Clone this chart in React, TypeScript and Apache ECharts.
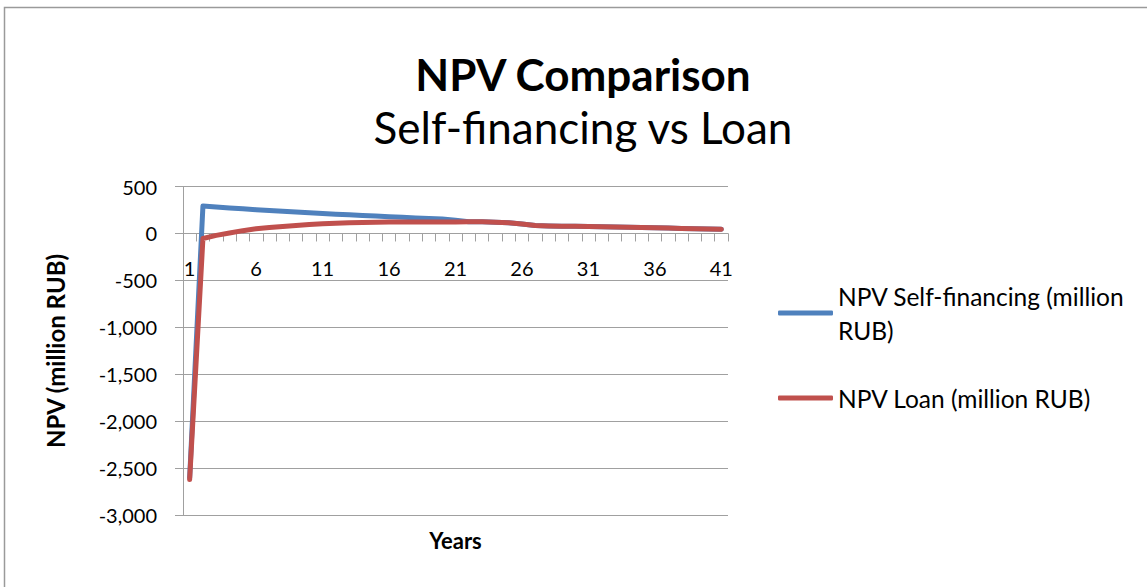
import React, { useEffect, useRef } from "react";
import * as echarts from "echarts";

const years = [
  "1", "2", "3", "4", "5", "6", "7", "8", "9", "10",
  "11", "12", "13", "14", "15", "16", "17", "18", "19", "20",
  "21", "22", "23", "24", "25", "26", "27", "28", "29", "30",
  "31", "32", "33", "34", "35", "36", "37", "38", "39", "40", "41",
];

const npvSelf = [
  -2600, 293, 282, 272, 262, 253, 244, 236, 228, 220,
  213, 205, 198, 191, 185, 179, 172, 166, 160, 153,
  140, 124, 124, 120, 113, 100, 85, 80, 78, 76,
  74, 72, 69, 66, 63, 60, 57, 54, 51, 48, 45,
];

const npvLoan = [
  -2620, -53, -20, 5, 30, 50, 63, 75, 85, 95,
  103, 110, 115, 118, 120, 121, 122, 122, 122, 122,
  123, 124, 124, 120, 113, 100, 85, 80, 78, 76,
  74, 72, 69, 66, 63, 60, 57, 54, 51, 48, 45,
];

const yTicks = { min: -3000, max: 500, interval: 500 };

const SELF_NAME = "NPV Self-financing (million RUB)";
const LOAN_NAME = "NPV Loan (million RUB)";

const FONT = "Lato, 'Open Sans', sans-serif";
const GRID_COLOR = "#a0a0a0";

const GRID_TOP = 186.5;
const GRID_BOTTOM_Y = 515.3;

export default function App() {
  const ref = useRef<HTMLDivElement>(null);

  useEffect(() => {
    if (!ref.current) return;
    const chart = echarts.init(ref.current, null, { renderer: "svg" });
    const plotH = GRID_BOTTOM_Y - GRID_TOP;
    const zeroY = GRID_TOP + (plotH * (yTicks.max - 0)) / (yTicks.max - yTicks.min);
    const xOffset = -(GRID_BOTTOM_Y - zeroY);
    chart.setOption({
      animation: false,
      backgroundColor: "#ffffff",
      textStyle: { fontFamily: FONT },
      title: [
        {
          text: "NPV Comparison",
          left: 578,
          top: 47,
          textAlign: "center",
          textStyle: { fontFamily: FONT, fontSize: 44, fontWeight: "bold", color: "#000" },
        },
        {
          text: "Self-financing vs Loan",
          left: 578,
          top: 100,
          textAlign: "center",
          textStyle: { fontFamily: FONT, fontSize: 44, fontWeight: "normal", color: "#000" },
        },
      ],
      graphic: [
        {
          type: "rect",
          shape: { x: 4.5, y: 7.5, width: 1300, height: 800 },
          style: { fill: "none", stroke: "#9a9a9a", lineWidth: 1.5 },
          silent: true,
        },
      ],
      legend: [
        {
          data: [SELF_NAME],
          left: 778,
          top: 262,
          padding: 0,
          icon: "roundRect",
          itemWidth: 55,
          itemHeight: 5,
          formatter: () => "NPV Self-financing (million\nRUB)",
          textStyle: {
            fontFamily: FONT,
            fontSize: 24.5,
            lineHeight: 34,
            color: "#000",
            padding: [34, 0, 0, 0],
          },
        },
        {
          data: [LOAN_NAME],
          left: 778,
          top: 381,
          padding: 0,
          icon: "roundRect",
          itemWidth: 55,
          itemHeight: 5,
          textStyle: { fontFamily: FONT, fontSize: 24.5, lineHeight: 34, color: "#000" },
        },
      ],
      grid: {
        left: 183,
        right: 419,
        top: GRID_TOP,
        bottom: 587 - GRID_BOTTOM_Y,
        containLabel: false,
        outerBoundsMode: "none",
      },
      xAxis: {
        type: "category",
        data: years,
        boundaryGap: true,
        position: "bottom",
        offset: xOffset,
        name: "Years",
        nameLocation: "middle",
        nameGap: 296,
        nameTextStyle: { fontFamily: FONT, fontSize: 22, fontWeight: "bold", color: "#000" },
        axisLine: { onZero: false, lineStyle: { color: GRID_COLOR, width: 1 } },
        axisTick: { show: true, interval: 0, length: 8, lineStyle: { color: GRID_COLOR } },
        axisLabel: { interval: 4, margin: 25, fontSize: 20, color: "#000", fontFamily: FONT },
        splitLine: { show: false },
      },
      yAxis: {
        type: "value",
        min: yTicks.min,
        max: yTicks.max,
        interval: yTicks.interval,
        name: "NPV (million RUB)",
        nameLocation: "middle",
        nameGap: 116,
        nameTextStyle: { fontFamily: FONT, fontSize: 24, fontWeight: "bold", color: "#000" },
        axisLine: { show: true, lineStyle: { color: GRID_COLOR, width: 1 } },
        axisTick: { show: true, length: 8, lineStyle: { color: GRID_COLOR } },
        axisLabel: {
          margin: 26,
          fontSize: 20,
          color: "#000",
          fontFamily: FONT,
          formatter: (v: number) => v.toLocaleString("en-US"),
        },
        splitLine: { show: true, lineStyle: { color: GRID_COLOR, width: 1 } },
      },
      series: [
        {
          name: SELF_NAME,
          type: "line",
          data: npvSelf,
          symbol: "none",
          lineStyle: { color: "#4f81bd", width: 5, cap: "round", join: "round" },
          itemStyle: { color: "#4f81bd" },
        },
        {
          name: LOAN_NAME,
          type: "line",
          data: npvLoan,
          symbol: "none",
          lineStyle: { color: "#c0504d", width: 5, cap: "round", join: "round" },
          itemStyle: { color: "#c0504d" },
        },
      ],
    });
    return () => chart.dispose();
  }, []);

  return (
    <div
      ref={ref}
      style={{ position: "fixed", left: 0, top: 0, width: 1147, height: 587 }}
    />
  );
}
